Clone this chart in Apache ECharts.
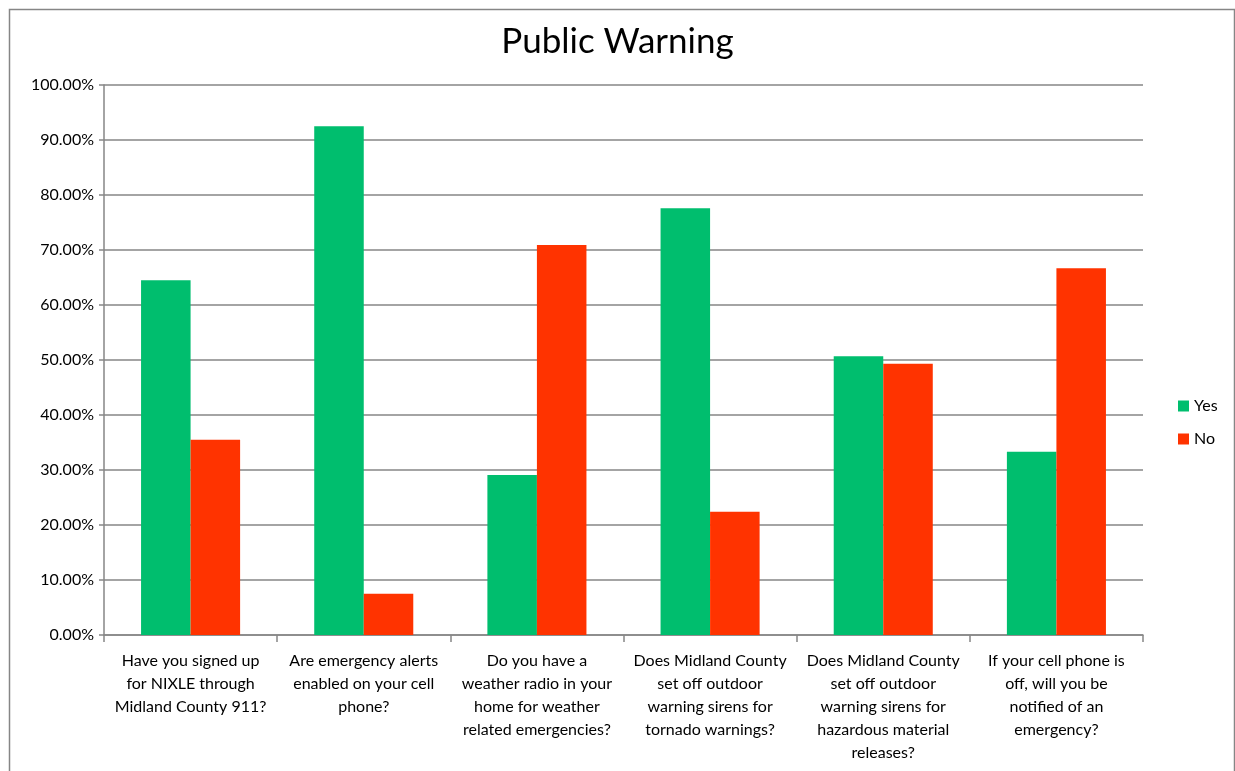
<!DOCTYPE html>
<html>
<head>
<meta charset="utf-8">
<script src="https://cdn.jsdelivr.net/npm/echarts@6/dist/echarts.min.js"></script>
<style>html,body{margin:0;padding:0;background:#fff}#c{width:1235px;height:771px}</style>
</head>
<body>
<div id="c"></div>
<script>
const categories = [
  "Have you signed up\nfor NIXLE through\nMidland County 911?",
  "Are emergency alerts\nenabled on your cell\nphone?",
  "Do you have a\nweather radio in your\nhome for weather\nrelated emergencies?",
  "Does Midland County\nset off outdoor\nwarning sirens for\ntornado warnings?",
  "Does Midland County\nset off outdoor\nwarning sirens for\nhazardous material\nreleases?",
  "If your cell phone is\noff, will you be\nnotified of an\nemergency?"
];
const yesValues = [64.5, 92.5, 29.1, 77.6, 50.7, 33.3];
const noValues = [35.5, 7.5, 70.9, 22.4, 49.3, 66.7];
const seriesNames = ["Yes", "No"];
const titleText = "Public Warning";

const chart = echarts.init(document.getElementById('c'), null, {renderer: 'canvas'});
const font = 'Lato, "Noto Sans", sans-serif';
chart.setOption({
  animation: false,
  backgroundColor: '#fff',
  graphic: [{
    type: 'rect', left: 7, top: 7, silent: true,
    shape: {x: 0, y: 0, width: 1225, height: 780},
    style: {fill: 'none', stroke: '#868686', lineWidth: 1.5}
  }],
  title: {
    text: titleText, left: 'center', top: 19,
    textStyle: {fontFamily: font, fontSize: 35, fontWeight: 'normal', color: '#000'}
  },
  legend: {
    orient: 'vertical', left: 1173, top: 393, itemGap: 17,
    itemWidth: 11, itemHeight: 11, icon: 'rect',
    textStyle: {fontFamily: font, fontSize: 16, color: '#000'},
    data: seriesNames
  },
  grid: {left: 104, right: 92, top: 85, bottom: 136, containLabel: false},
  xAxis: {
    type: 'category', data: categories,
    axisLine: {lineStyle: {color: '#868686', width: 1.5}},
    axisTick: {show: true, alignWithLabel: false, length: 7, lineStyle: {color: '#868686', width: 1.5}},
    axisLabel: {interval: 0, fontFamily: font, fontSize: 16, color: '#000', lineHeight: 23, margin: 14}
  },
  yAxis: {
    type: 'value', min: 0, max: 100, interval: 10,
    axisLine: {show: true, lineStyle: {color: '#868686', width: 1.5}},
    axisTick: {show: true, length: 5, lineStyle: {color: '#868686', width: 1.5}},
    splitLine: {lineStyle: {color: '#868686', width: 1.5}},
    axisLabel: {fontFamily: font, fontSize: 16, color: '#000', margin: 10,
      formatter: v => v.toFixed(2) + '%'}
  },
  series: [
    {name: seriesNames[0], type: 'bar', data: yesValues, barGap: '0%', barCategoryGap: '42.8%',
     itemStyle: {color: '#00BE6E'}},
    {name: seriesNames[1], type: 'bar', data: noValues, barGap: '0%', barCategoryGap: '42.8%',
     itemStyle: {color: '#FF3300'}}
  ]
});
</script>
</body>
</html>
